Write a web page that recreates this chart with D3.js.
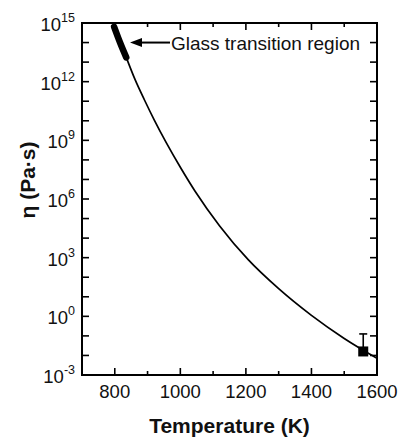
<!DOCTYPE html>
<html>
<head>
<meta charset="utf-8">
<script src="https://cdn.jsdelivr.net/npm/d3@7"></script>
<style>
  html, body { margin: 0; padding: 0; background: #fff; }
  svg { display: block; font-family: "Liberation Sans", Arial, sans-serif; }
</style>
</head>
<body>
<svg id="chart" width="401" height="438"></svg>
<script>
// Temperature axis ticks (K)
const tempMajorTicks = [800, 1000, 1200, 1400, 1600];
const tempMinorTicks = [700, 900, 1100, 1300, 1500];
// Viscosity decades: labelled exponents and every decade tick
const etaLabelExponents = [-3, 0, 3, 6, 9, 12, 15];
const etaDecadeExponents = d3.range(-3, 16);

// Viscosity curve, η (Pa·s) vs T (K)
const curveT   = [835, 862, 891, 921, 957, 1000, 1045, 1120, 1207, 1300, 1400, 1500, 1600];
const curveEta = [1.74e13, 1.26e12, 1.12e11, 1.05e10, 7.6e8, 4.2e7, 2.5e6, 4.2e4, 7.9e2, 26, 1.12, 0.074, 0.0071];

// Glass transition region (thick segment)
const glassT   = [798, 816, 835];
const glassEta = [6.3e14, 1.0e14, 1.74e13];

// Measured point with upper error
const pointT = [1558];
const pointEta = [0.016];
const pointEtaUpper = [0.126];

const svg = d3.select("#chart");
const margin = { left: 82, right: 24, top: 23, bottom: 63 };
const W = 401, H = 438;

const x = d3.scaleLinear().domain([700, 1600]).range([margin.left, W - margin.right]);
const y = d3.scaleLog().domain([1e-3, 1e15]).range([H - margin.bottom, margin.top]);

const x0 = x.range()[0], x1 = x.range()[1];
const y0 = y.range()[0], y1 = y.range()[1];
const tickLen = 7, minorLen = 4;

// Ticks (pointing inward on all four sides)
const ticks = svg.append("g").attr("stroke", "#000").attr("stroke-width", 1.6);
tempMajorTicks.forEach(t => {
  ticks.append("line").attr("x1", x(t)).attr("x2", x(t)).attr("y1", y0).attr("y2", y0 - tickLen);
  ticks.append("line").attr("x1", x(t)).attr("x2", x(t)).attr("y1", y1).attr("y2", y1 + tickLen);
});
tempMinorTicks.forEach(t => {
  ticks.append("line").attr("x1", x(t)).attr("x2", x(t)).attr("y1", y0).attr("y2", y0 - minorLen);
  ticks.append("line").attr("x1", x(t)).attr("x2", x(t)).attr("y1", y1).attr("y2", y1 + minorLen);
});
etaDecadeExponents.forEach(e => {
  const v = Math.pow(10, e);
  ticks.append("line").attr("x1", x0).attr("x2", x0 + tickLen).attr("y1", y(v)).attr("y2", y(v));
  ticks.append("line").attr("x1", x1).attr("x2", x1 - tickLen).attr("y1", y(v)).attr("y2", y(v));
});

// Frame
svg.append("rect")
  .attr("x", x0).attr("y", y1)
  .attr("width", x1 - x0).attr("height", y0 - y1)
  .attr("fill", "none").attr("stroke", "#000").attr("stroke-width", 2);

// X tick labels
svg.append("g").selectAll("text").data(tempMajorTicks).join("text")
  .attr("x", d => x(d)).attr("y", y0 + 23)
  .attr("text-anchor", "middle").attr("font-size", 18.5).attr("fill", "#111")
  .text(d => d);

// Y tick labels: 10 with superscript exponent
const yl = svg.append("g").selectAll("text").data(etaLabelExponents).join("text")
  .attr("x", x0 - 7).attr("y", d => y(Math.pow(10, d)) + 8)
  .attr("text-anchor", "end").attr("fill", "#111");
yl.append("tspan").attr("font-size", 18.5).text("10");
yl.append("tspan").attr("font-size", 12.5).attr("dy", -9).text(d => d);

// Axis titles
svg.append("text")
  .attr("x", (x0 + x1) / 2).attr("y", 433)
  .attr("text-anchor", "middle").attr("font-size", 21).attr("font-weight", "bold").attr("fill", "#111")
  .text("Temperature (K)");
svg.append("text")
  .attr("transform", `translate(35,${(y0 + y1) / 2 - 19}) rotate(-90)`)
  .attr("text-anchor", "middle").attr("font-size", 21).attr("font-weight", "bold").attr("fill", "#111")
  .text("η (Pa·s)");

// Curve
const line = d3.line()
  .x(d => x(d[0])).y(d => y(d[1]))
  .curve(d3.curveMonotoneX);
svg.append("path")
  .datum(curveT.map((t, i) => [t, curveEta[i]]))
  .attr("d", line)
  .attr("fill", "none").attr("stroke", "#000").attr("stroke-width", 1.7);

// Glass transition region
svg.append("path")
  .datum(glassT.map((t, i) => [t, glassEta[i]]))
  .attr("d", line)
  .attr("fill", "none").attr("stroke", "#000").attr("stroke-width", 6.5)
  .attr("stroke-linecap", "round");

// Measured point with upper error bar
pointT.forEach((t, i) => {
  const px = x(t), py = y(pointEta[i]), pu = y(pointEtaUpper[i]);
  svg.append("line").attr("x1", px).attr("x2", px).attr("y1", py).attr("y2", pu)
    .attr("stroke", "#000").attr("stroke-width", 1.6);
  svg.append("line").attr("x1", px - 4).attr("x2", px + 4).attr("y1", pu).attr("y2", pu)
    .attr("stroke", "#000").attr("stroke-width", 1.6);
  svg.append("rect").attr("x", px - 5).attr("y", py - 5).attr("width", 10).attr("height", 10)
    .attr("fill", "#000");
});

// Annotation arrow and label
const annY = y(Math.pow(10, 14));
const arrowTip = 130, arrowTail = 170;
svg.append("line").attr("x1", arrowTip + 10).attr("x2", arrowTail).attr("y1", annY).attr("y2", annY)
  .attr("stroke", "#000").attr("stroke-width", 2);
svg.append("path")
  .attr("d", `M${arrowTip},${annY} L${arrowTip + 12},${annY - 4.5} L${arrowTip + 12},${annY + 4.5} Z`)
  .attr("fill", "#000");
svg.append("text")
  .attr("x", 171).attr("y", annY + 7)
  .attr("font-size", 19).attr("fill", "#111")
  .text("Glass transition region");
</script>
</body>
</html>
